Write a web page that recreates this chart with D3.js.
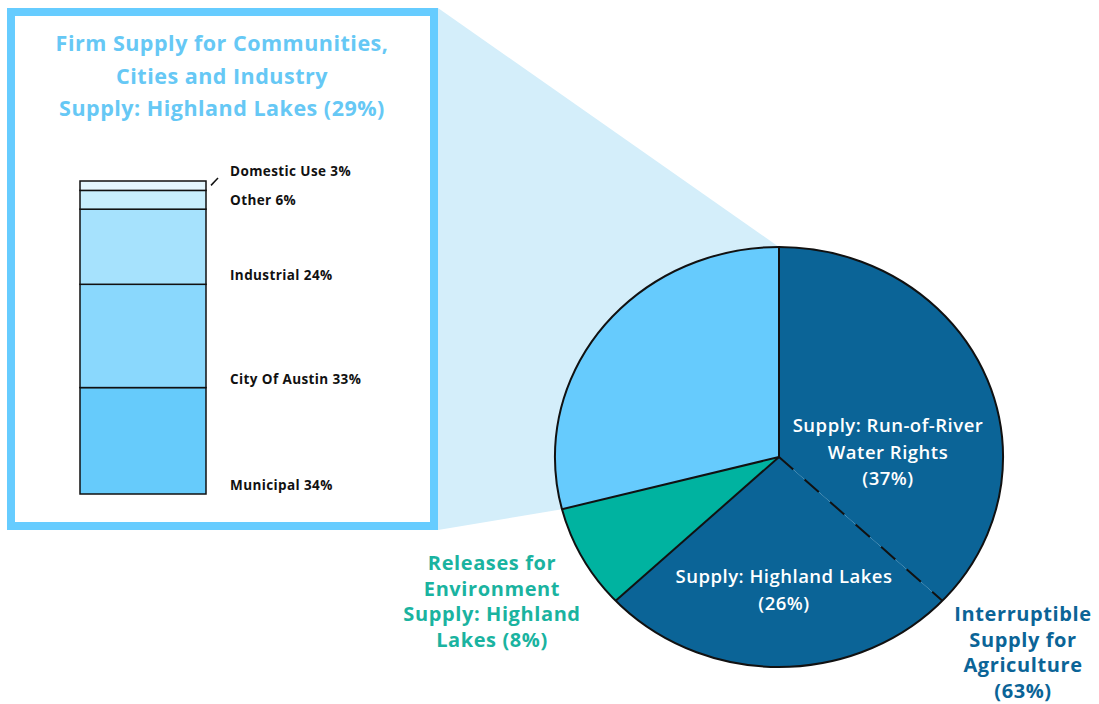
<!DOCTYPE html>
<meta charset="utf-8" />
<style>
  body { margin: 0; background: #fff; }
  text { font-family: "Open Sans", "DejaVu Sans", sans-serif; font-weight: bold; }
  .pie-label { fill: #fff; text-anchor: middle; font-weight: 600; letter-spacing: 0.5px; }
  .side-label { letter-spacing: 0.6px; }
  .bar-label { fill: #111; font-size: 13.5px; letter-spacing: 0.4px; }
  .title { letter-spacing: 0.5px; }
</style>
<svg width="1099" height="704"></svg>
<script src="https://d3js.org/d3.v7.min.js"></script>
<script>
  // pie: share of the supply, clockwise from 12 o'clock
  var pieNames = ["Run-of-River", "Highland Lakes", "Environment", "Firm Supply"];
  var pieValues = [37, 26, 8, 29];
  var pieColors = ["#0b6497", "#0b6497", "#00b3a0", "#66cbfd"];

  // stacked bar inside the box, bottom to top
  var barNames = ["Municipal", "City Of Austin", "Industrial", "Other", "Domestic Use"];
  var barValues = [34, 33, 24, 6, 3];
  var barColors = ["#66cbfb", "#8ad8fd", "#a6e2fd", "#c8eefd", "#e4f6fe"];

  var titleLines = ["Firm Supply for Communities,", "Cities and Industry", "Supply: Highland Lakes (29%)"];

  var svg = d3.select("svg");

  var cx = 779, cy = 457, r = 210, sx = 1.067;

  var pie = d3.pie().sort(null).value(function (d) { return d; });
  var arcs = pie(pieValues);

  // point on the (slightly stretched) pie edge
  function edge(a) {
    return [cx + Math.sin(a) * r * sx, cy - Math.cos(a) * r];
  }

  // light projection from the box to the firm-supply slice
  var firm = arcs[3];
  var pTop = edge(firm.endAngle), pBot = edge(firm.startAngle);
  svg.append("polygon")
    .attr("points", [[438, 8], pTop, [cx, cy], pBot, [438, 530]].map(function (p) { return p.join(","); }).join(" "))
    .attr("fill", "#d4eefa");

  // box
  svg.append("rect")
    .attr("x", 11).attr("y", 12).attr("width", 423).attr("height", 514)
    .attr("fill", "#fff").attr("stroke", "#66ccff").attr("stroke-width", 8);

  svg.append("g").selectAll("text")
    .data(titleLines).enter().append("text")
    .attr("class", "title")
    .attr("x", 222).attr("y", function (d, i) { return 51 + i * 32.5; })
    .attr("text-anchor", "middle").attr("fill", "#66c8f5").attr("font-size", 21.5)
    .text(function (d) { return d; });

  // stacked bar
  var y = d3.scaleLinear().domain([0, 100]).range([494, 181]);
  var stacked = [], acc = 0;
  barValues.forEach(function (v, i) {
    stacked.push({ name: barNames[i], v: v, y0: acc, y1: acc + v, color: barColors[i] });
    acc += v;
  });

  svg.append("g").selectAll("rect")
    .data(stacked).enter().append("rect")
    .attr("x", 80).attr("width", 126)
    .attr("y", function (d) { return y(d.y1); })
    .attr("height", function (d) { return y(d.y0) - y(d.y1); })
    .attr("fill", function (d) { return d.color; })
    .attr("stroke", "#111").attr("stroke-width", 1.5);

  svg.append("g").selectAll("text")
    .data(stacked).enter().append("text")
    .attr("class", "bar-label")
    .attr("x", 230)
    .attr("y", function (d, i) { return i === 4 ? y(d.y1) - 5 : y(d.y0) - 4; })
    .text(function (d) { return d.name + " " + d.v + "%"; });

  var dom = stacked[4];
  svg.append("line")
    .attr("x1", 211).attr("y1", y(dom.y0) - 5).attr("x2", 218).attr("y2", y(dom.y1) - 3)
    .attr("stroke", "#111").attr("stroke-width", 1.5);

  // pie
  var arc = d3.arc().innerRadius(0).outerRadius(r);
  var pg = svg.append("g").attr("transform", "translate(" + cx + "," + cy + ") scale(" + sx + ",1)");
  pg.selectAll("path")
    .data(arcs).enter().append("path")
    .attr("d", arc)
    .attr("fill", function (d, i) { return pieColors[i]; });

  pg.append("ellipse").attr("rx", r).attr("ry", r)
    .attr("fill", "none").attr("stroke", "#111").attr("stroke-width", 2)
    .attr("vector-effect", "non-scaling-stroke");

  // slice borders; the one inside the agriculture block is dashed
  arcs.forEach(function (d, i) {
    var p = edge(d.startAngle);
    svg.append("line")
      .attr("x1", cx).attr("y1", cy).attr("x2", p[0]).attr("y2", p[1])
      .attr("stroke", "#111").attr("stroke-width", 2)
      .attr("stroke-dasharray", i === 1 ? "19,15" : null);
  });

  function lines(g, arr, x, y0, dy, cls, color, size) {
    g.selectAll(null).data(arr).enter().append("text")
      .attr("class", cls)
      .attr("x", x).attr("y", function (d, i) { return y0 + i * dy; })
      .attr("text-anchor", "middle")
      .attr("fill", color).attr("font-size", size)
      .text(function (d) { return d; });
  }

  lines(svg, ["Supply: Run-of-River", "Water Rights", "(" + pieValues[0] + "%)"], 888, 432, 26.5, "pie-label", "#fff", 18.5);
  lines(svg, ["Supply: Highland Lakes", "(" + pieValues[1] + "%)"], 784, 583, 27, "pie-label", "#fff", 18.5);
  lines(svg, ["Releases for", "Environment", "Supply: Highland", "Lakes (" + pieValues[2] + "%)"], 492, 570, 25.7, "side-label", "#1ab3a0", 20);
  lines(svg, ["Interruptible", "Supply for", "Agriculture", "(" + (pieValues[0] + pieValues[1]) + "%)"], 1023, 621, 25.5, "side-label", "#0b6497", 20);
</script>
